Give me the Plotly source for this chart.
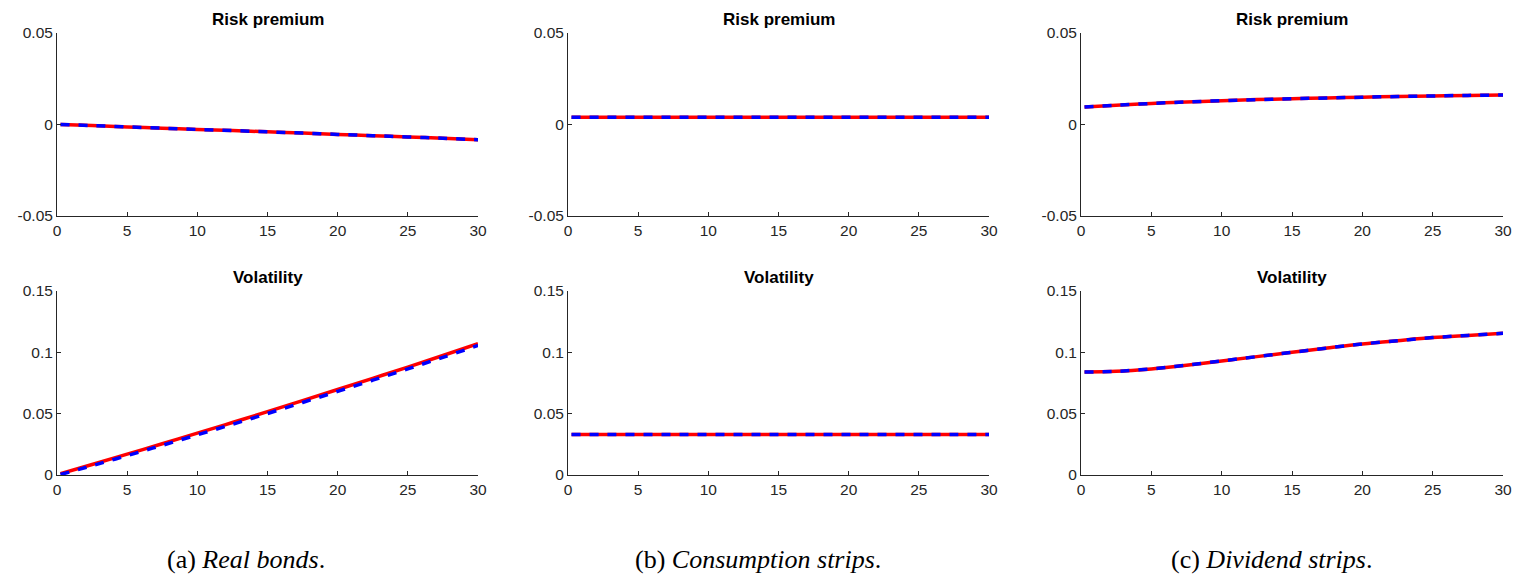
import plotly.graph_objects as go

# Maturity (years)
maturity = [0.25, 2.5, 5, 7.5, 10, 12.5, 15, 17.5, 20, 22.5, 25, 27.5, 30]

# (a) Real bonds
bonds_rp_model = [0.0, -0.0006, -0.0013, -0.0020, -0.0027, -0.0033, -0.0040, -0.0047, -0.0054, -0.0061, -0.0068, -0.0075, -0.0083]
bonds_rp_approx = [0.0, -0.0006, -0.0013, -0.0020, -0.0027, -0.0033, -0.0040, -0.0047, -0.0054, -0.0061, -0.0068, -0.0075, -0.0083]
bonds_vol_model = [0.0011, 0.0086, 0.0170, 0.0255, 0.0341, 0.0428, 0.0516, 0.0606, 0.0697, 0.0788, 0.0880, 0.0974, 0.1070]
bonds_vol_approx = [0.0004, 0.0076, 0.0158, 0.0242, 0.0327, 0.0413, 0.0501, 0.0591, 0.0682, 0.0773, 0.0865, 0.0959, 0.1056]

# (b) Consumption strips
cons_rp_model = [0.004] * 13
cons_rp_approx = [0.004] * 13
cons_vol_model = [0.033] * 13
cons_vol_approx = [0.033] * 13

# (c) Dividend strips
div_rp_model = [0.0095, 0.0105, 0.0115, 0.0123, 0.0130, 0.0136, 0.0141, 0.0145, 0.0149, 0.0153, 0.0156, 0.0159, 0.0161]
div_rp_approx = div_rp_model
div_vol_model = [0.0840, 0.0845, 0.0865, 0.0895, 0.0930, 0.0965, 0.1000, 0.1035, 0.1068, 0.1095, 0.1120, 0.1138, 0.1155]
div_vol_approx = div_vol_model

titles_top = "Risk premium"
titles_bottom = "Volatility"
captions = [("(a) ", "Real bonds"), ("(b) ", "Consumption strips"), ("(c) ", "Dividend strips")]

x_ticks = [0, 5, 10, 15, 20, 25, 30]
rp_ticks = [-0.05, 0, 0.05]
rp_labels = ["-0.05", "0", "0.05"]
vol_ticks = [0, 0.05, 0.1, 0.15]
vol_labels = ["0", "0.05", "0.1", "0.15"]

W, H = 1518, 576
col_px = [(57, 478), (568, 989), (1081, 1503)]
caption_cx = [246, 758, 1271]
top_px = (33, 216)
bot_px = (291, 475)

fig = go.Figure()
panels = [
    (bonds_rp_model, bonds_rp_approx, bonds_vol_model, bonds_vol_approx),
    (cons_rp_model, cons_rp_approx, cons_vol_model, cons_vol_approx),
    (div_rp_model, div_rp_approx, div_vol_model, div_vol_approx),
]

tick_font = dict(family="Liberation Sans, Arial", size=15.5, color="#262626")
axcolor = "#262626"

layout = dict(
    width=W, height=H, margin=dict(l=0, r=0, t=0, b=0, autoexpand=False),
    paper_bgcolor="white", plot_bgcolor="white", showlegend=False,
)
annotations = []
idx = 0
for c, (rpm, rpa, vm, va) in enumerate(panels):
    x0, x1 = col_px[c]
    xd = [x0 / W, x1 / W]
    for r, (ym, ya, (yt, yb), ticks, labels, rng, title) in enumerate([
        (rpm, rpa, top_px, rp_ticks, rp_labels, [-0.05, 0.05], titles_top),
        (vm, va, bot_px, vol_ticks, vol_labels, [0, 0.15], titles_bottom),
    ]):
        idx += 1
        sfx = "" if idx == 1 else str(idx)
        yd = [(H - yb) / H, (H - yt) / H]
        fig.add_trace(go.Scatter(x=maturity, y=ym, mode="lines", line=dict(color="#ff0000", width=3.5, shape="spline"),
                                 xaxis="x" + sfx, yaxis="y" + sfx))
        fig.add_trace(go.Scatter(x=maturity, y=ya, mode="lines", line=dict(color="#0000ff", width=3.5, dash="9px,9px", shape="spline"),
                                 xaxis="x" + sfx, yaxis="y" + sfx))
        layout["xaxis" + sfx] = dict(domain=xd, range=[0, 30], tickvals=x_ticks, ticks="inside", ticklen=4,
                                    showline=True, linecolor=axcolor, linewidth=1, showgrid=False, zeroline=False,
                                    tickfont=tick_font, tickcolor=axcolor, anchor="y" + sfx, mirror=False,
                                    automargin=False)
        layout["yaxis" + sfx] = dict(domain=yd, range=rng, tickvals=ticks, ticktext=labels, ticks="inside", ticklen=4,
                                    showline=True, linecolor=axcolor, linewidth=1, showgrid=False, zeroline=False,
                                    tickfont=tick_font, tickcolor=axcolor, anchor="x" + sfx, automargin=False)
        annotations.append(dict(text="<b>" + title + "</b>", x=(x0 + x1) / 2 / W, y=(H - (yt - 14)) / H,
                                xref="paper", yref="paper", xanchor="center", yanchor="middle", showarrow=False,
                                font=dict(family="Liberation Sans, Arial", size=17, color="black")))
    pre, name = captions[c]
    annotations.append(dict(text=pre + "<i>" + name + "</i>.", x=caption_cx[c] / W, y=(H - 559) / H,
                            xref="paper", yref="paper", xanchor="center", yanchor="middle", showarrow=False,
                            font=dict(family="Liberation Serif, Times New Roman", size=26, color="black")))

layout["annotations"] = annotations
fig.update_layout(**layout)
fig.write_html("out.html", config={"displayModeBar": False},
               post_script="document.body.style.margin='0';document.body.style.overflow='hidden';")
